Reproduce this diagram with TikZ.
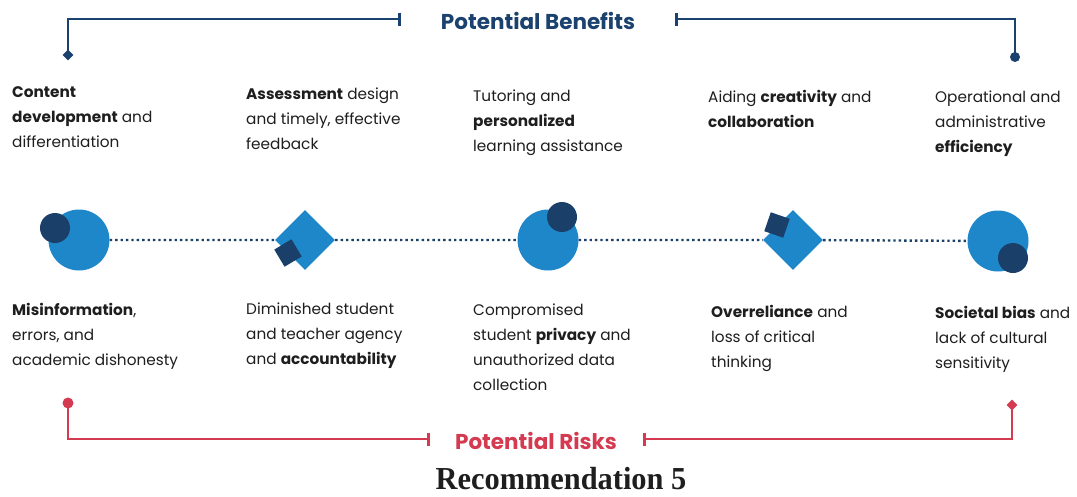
\documentclass[tikz,border=0pt]{standalone}
\usepackage{fontspec}
\setmainfont{Poppins}
\newfontfamily\recfont{Liberation Serif}
\usetikzlibrary{arrows.meta,shapes.geometric}
\definecolor{navy}{HTML}{1B416F}
\definecolor{bluec}{HTML}{1E87C9}
\definecolor{darkc}{HTML}{1A3F68}
\definecolor{redc}{HTML}{D43A50}
\definecolor{txt}{HTML}{1E1E1E}
\begin{document}
\begin{tikzpicture}[x=1pt,y=-1pt,
  lbl/.style={anchor=north west,inner sep=0pt,align=left,text=txt,font=\fontsize{15.3}{25}\selectfont},
  bigc/.style={circle,fill=bluec,minimum size=61pt,inner sep=0pt},
  smallc/.style={circle,fill=darkc,minimum size=30pt,inner sep=0pt},
  bigd/.style={rectangle,fill=bluec,minimum size=42.4pt,inner sep=0pt,rotate=45},
  smalld/.style={rectangle,fill=darkc,minimum size=20pt,inner sep=0pt},
  dotline/.style={darkc,line width=2.4pt,dash pattern=on 2.4pt off 3pt},
  bbr/.style={navy,line width=2.6pt},
  rbr/.style={redc,line width=2.6pt},
  dmark/.style={diamond,inner sep=0pt,minimum size=11pt},
  cmark/.style={circle,inner sep=0pt,minimum size=10pt},
  title/.style={font=\fontsize{21.5}{24}\selectfont\bfseries,inner sep=0pt}
]
\useasboundingbox[fill=white] (0,0) rectangle (1077,496);

% top bracket
\node[title,text=navy] (benefits) at (538,21) {Potential Benefits};
\node[dmark,fill=navy] (bmL) at (68,55) {};
\node[cmark,fill=navy] (bmR) at (1015,57) {};
\coordinate (btL) at (401,19);
\coordinate (btR) at (675,19);
\draw[bbr,-{Bar[width=13pt,line width=2.6pt]}] (bmL.center) |- (btL);
\draw[bbr,-{Bar[width=13pt,line width=2.6pt]}] (bmR.center) |- (btR);

% bottom bracket
\node[title,text=redc] (risks) at (536,441) {Potential Risks};
\node[cmark,fill=redc,minimum size=11pt] (rmL) at (68,403) {};
\node[dmark,fill=redc] (rmR) at (1012,405) {};
\coordinate (rtL) at (430,439);
\coordinate (rtR) at (643,439);
\draw[rbr,-{Bar[width=13pt,line width=2.6pt]}] (rmL.center) |- (rtL);
\draw[rbr,-{Bar[width=13pt,line width=2.6pt]}] (rmR.center) |- (rtR);

% benefits labels
\node[lbl] (b1) at (12,86) {\textbf{Content}\\\textbf{development} and\\differentiation};
\node[lbl] (b2) at (246,88) {\textbf{Assessment} design\\and timely, effective\\feedback};
\node[lbl] (b3) at (473,90) {Tutoring and\\\textbf{personalized}\\learning assistance};
\node[lbl] (b4) at (708,90) {Aiding \textbf{creativity} and\\\textbf{collaboration}};
\node[lbl] (b5) at (935,91) {Operational and\\administrative\\\textbf{efficiency}};

% risks labels
\node[lbl] (r1) at (12,303) {\textbf{Misinformation},\\errors, and\\academic dishonesty};
\node[lbl] (r2) at (246,303) {Diminished student\\and teacher agency\\and \textbf{accountability}};
\node[lbl] (r3) at (473,304) {Compromised\\student \textbf{privacy} and\\unauthorized data\\collection};
\node[lbl] (r4) at (711,305) {\textbf{Overreliance} and\\loss of critical\\thinking};
\node[lbl] (r5) at (935,306) {\textbf{Societal bias} and\\lack of cultural\\sensitivity};

% shapes
\node[bigc] (c1) at (79,240) {};
\node[bigd] (d2) at (305,240) {};
\node[bigc] (c3) at (548,240) {};
\node[bigd] (d4) at (793,240) {};
\node[bigc] (c5) at (998,241) {};
\draw[dotline] (c1) -- (d2);
\draw[dotline] (d2) -- (c3);
\draw[dotline] (c3) -- (d4);
\draw[dotline] (d4) -- (c5);
\node[smallc] (s1) at (55,228) {};
\node[smalld,rotate=31] (s2) at (288,253) {};
\node[smallc] (s3) at (562,217) {};
\node[smalld,rotate=-19] (s4) at (777,225) {};
\node[smallc] (s5) at (1013,258) {};

% caption
\node[anchor=base,inner sep=0pt,text=txt,xscale=0.95] (rec) at (561,489) {\recfont\bfseries\fontsize{32}{34}\selectfont Recommendation 5};
\end{tikzpicture}
\end{document}
